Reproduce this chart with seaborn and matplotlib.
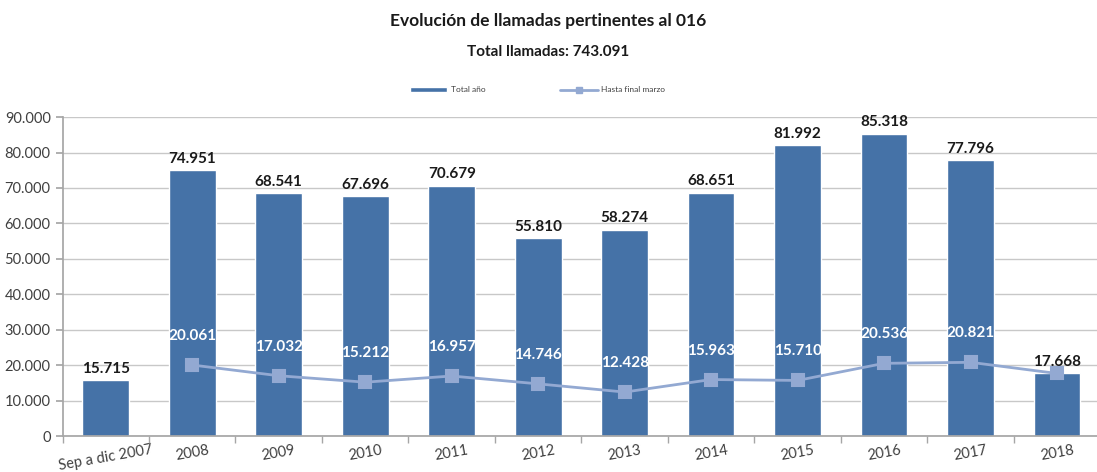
import numpy as np
import pandas as pd
import matplotlib
matplotlib.use("Agg")
import matplotlib.pyplot as plt
import seaborn as sns
from matplotlib.ticker import FuncFormatter, MultipleLocator
from matplotlib.lines import Line2D
from matplotlib.patches import Patch

# datos
years = ["Sep a dic 2007", "2008", "2009", "2010", "2011", "2012", "2013",
         "2014", "2015", "2016", "2017", "2018"]
total_anio = [15715, 74951, 68541, 67696, 70679, 55810, 58274,
              68651, 81992, 85318, 77796, 17668]
hasta_marzo = [np.nan, 20061, 17032, 15212, 16957, 14746, 12428,
               15963, 15710, 20536, 20821, 17668]

bar_color = "#4572A7"
line_color = "#93A9D2"

sns.set_theme(style="white")
plt.rcParams["font.family"] = ["Lato", "DejaVu Sans"]

df = pd.DataFrame({"year": years, "total": total_anio, "marzo": hasta_marzo})


def fmt(v):
    return f"{int(round(v)):,}".replace(",", ".")


fig = plt.figure(figsize=(10.97, 4.72), dpi=100)
ax = fig.add_axes([0.057, 0.076, 0.946, 0.676])

sns.barplot(data=df, x="year", y="total", order=years, color=bar_color,
            width=0.54, saturation=1, ax=ax, zorder=2)
sns.pointplot(data=df, x="year", y="marzo", order=years, color=line_color,
              markers="s", markersize=8, linewidth=2, errorbar=None,
              ax=ax, zorder=3)

# etiquetas de barras
for i, v in enumerate(total_anio):
    ax.text(i, v + 1300, fmt(v), ha="center", va="bottom", fontsize=11,
            fontweight="bold", color="#1a1a1a", zorder=5)

# etiquetas de la linea
for i, v in enumerate(hasta_marzo):
    if np.isnan(v) or i == len(years) - 1:
        continue
    ax.text(i, v + 6200, fmt(v), ha="center", va="bottom", fontsize=11,
            fontweight="bold", color="white", zorder=5)

ax.set_ylim(0, 90000)
ax.set_xlim(-0.5, len(years) - 0.5)
ax.yaxis.set_major_locator(MultipleLocator(10000))
ax.yaxis.set_major_formatter(FuncFormatter(lambda v, p: fmt(v)))
ax.grid(axis="y", color="#c8c8c8", linewidth=1, zorder=0)
ax.set_axisbelow(True)

for s in ["top", "right"]:
    ax.spines[s].set_visible(False)
for s in ["left", "bottom"]:
    ax.spines[s].set_color("#a6a6a6")

ax.set_xlabel("")
ax.set_ylabel("")
ax.set_xticks(range(len(years)))
ax.set_xticklabels(years, rotation=10, fontsize=10.5, color="#404040")
ax.tick_params(axis="x", length=0, pad=5)
ax.set_xticks(np.arange(-0.5, len(years), 1), minor=True)
ax.tick_params(axis="x", which="minor", length=5, color="#a6a6a6",
               direction="out", bottom=True)
ax.tick_params(axis="y", labelsize=10.5, labelcolor="#404040", length=5,
               color="#a6a6a6", direction="out", left=True)

fig.text(0.5, 0.955, "Evolución de llamadas pertinentes al 016", ha="center",
         va="center", fontsize=12.5, fontweight="bold", color="#1a1a1a")
fig.text(0.5, 0.89, "Total llamadas: 743.091", ha="center", va="center",
         fontsize=11, fontweight="bold", color="#1a1a1a")

handles = [Patch(facecolor=bar_color, label="Total año"),
           Line2D([0], [0], color=line_color, lw=2, marker="s",
                  markersize=4, label="Hasta final marzo")]
fig.legend(handles=handles, loc="center", bbox_to_anchor=(0.49, 0.81),
           ncol=2, frameon=False, fontsize=6, columnspacing=9,
           handlelength=4.5, handleheight=0.5, handletextpad=0.4,
           labelcolor="#404040")

fig.savefig("out.png", dpi=100)
